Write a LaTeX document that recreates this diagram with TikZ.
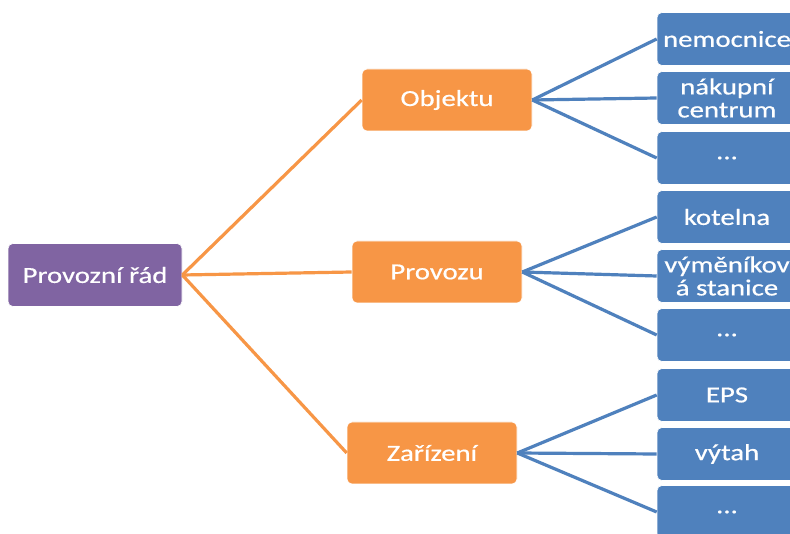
\documentclass[tikz,border=0pt]{standalone}
\usepackage{fontspec}
\setmainfont{Carlito}[FakeStretch=1.25,FakeBold=0.6]
\usepackage{xcolor}
\definecolor{rootfill}{HTML}{8064A2}
\definecolor{midfill}{HTML}{F79646}
\definecolor{leaffill}{HTML}{4F81BD}
\tikzset{
  root box/.style={draw=white,line width=.6pt,rounded corners=5pt,fill=rootfill,
    minimum width=174pt,minimum height=63pt,text=white,font=\fontsize{23}{25}\selectfont},
  mid box/.style={draw=white,line width=.6pt,rounded corners=5pt,fill=midfill,
    minimum width=170pt,minimum height=62pt,text=white,font=\fontsize{23}{25}\selectfont},
  leaf box/.style={draw=white,line width=.6pt,rounded corners=5pt,fill=leaffill,
    minimum width=140pt,minimum height=53pt,text=white,align=center,inner sep=1pt,
    font=\fontsize{23}{23}\selectfont},
  mid link/.style={draw=midfill,line width=3.2pt},
  leaf link/.style={draw=leaffill,line width=3.2pt}
}
\begin{document}
\begin{tikzpicture}[x=1pt,y=1pt]
  \path[use as bounding box] (0,0) rectangle (790,533);
  \fill[white] (0,0) rectangle (790,533);
  \clip (0,0) rectangle (790,533);

  % Root and second level.
  \node[root box] (root) at (95,258) {Provozní řád};
  \node[mid box] (objekt) at (447,433) {Objektu};
  \node[mid box] (provoz) at (437,261) {Provozu};
  \node[mid box] (zariz) at (432,80) {Zařízení};

  % Leaves.
  \node[leaf box] (nemoc) at (727,494) {nemocnice};
  \node[leaf box] (nakup) at (727,435) {nákupní\\centrum};
  \node[leaf box] (objdots) at (727,375) {...};
  \node[leaf box] (kotel) at (727,316) {kotelna};
  \node[leaf box] (vymen) at (727,257) {výměníkov\\á stanice};
  \node[leaf box] (provdots) at (727,198) {...};
  \node[leaf box] (eps) at (727,138) {EPS};
  \node[leaf box] (vytah) at (727,79) {výtah};
  \node[leaf box] (zardots) at (727,21) {...};

  % Connectors.
  \draw[mid link] (root.east) -- (objekt.west);
  \draw[mid link] (root.east) -- (provoz.west);
  \draw[mid link] (root.east) -- (zariz.west);
  \draw[leaf link] (objekt.east) -- (nemoc.west);
  \draw[leaf link] (objekt.east) -- (nakup.west);
  \draw[leaf link] (objekt.east) -- (objdots.west);
  \draw[leaf link] (provoz.east) -- (kotel.west);
  \draw[leaf link] (provoz.east) -- (vymen.west);
  \draw[leaf link] (provoz.east) -- (provdots.west);
  \draw[leaf link] (zariz.east) -- (eps.west);
  \draw[leaf link] (zariz.east) -- (vytah.west);
  \draw[leaf link] (zariz.east) -- (zardots.west);
\end{tikzpicture}
\end{document}
